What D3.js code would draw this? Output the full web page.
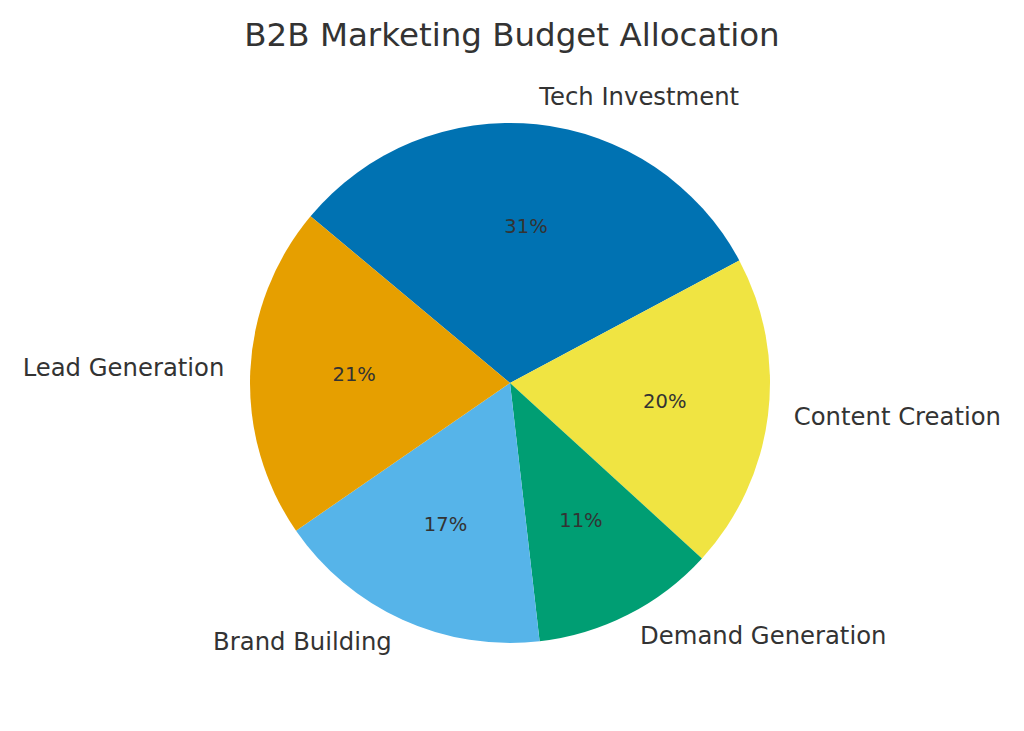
<!DOCTYPE html>
<html>
<head>
<meta charset="utf-8">
<script src="https://cdn.jsdelivr.net/npm/d3@7"></script>
<style>
  body { margin: 0; background: #fff; }
  text { font-family: "DejaVu Sans", sans-serif; fill: #333333; }
</style>
</head>
<body>
<div id="chart"></div>
<script>
const WIDTH = 1024;
const HEIGHT = 731;
const CENTER = { x: 510, y: 383 };
const RADIUS = 260;

// slice order goes clockwise from the Tech Investment wedge
const categories = [
  "Tech Investment",
  "Content Creation",
  "Demand Generation",
  "Brand Building",
  "Lead Generation",
];
// shares (labels are rounded)
const shares = [31.1, 19.6, 11.4, 17.2, 20.7];
const colors = ["#0072B2", "#F0E442", "#009E73", "#56B4E9", "#E69F00"];

const data = categories.map((c, i) => ({ name: c, value: shares[i], color: colors[i] }));

const svg = d3
  .select("#chart")
  .append("svg")
  .attr("width", WIDTH)
  .attr("height", HEIGHT);

svg
  .append("text")
  .attr("x", WIDTH / 2)
  .attr("y", 35)
  .attr("text-anchor", "middle")
  .attr("dominant-baseline", "central")
  .attr("font-size", "32.5px")
  .text("B2B Marketing Budget Allocation");

// start at 140deg (counter-clockwise from 3 o'clock) => -50deg from 12 o'clock
const start = (-50.1 * Math.PI) / 180;
const pie = d3
  .pie()
  .sort(null)
  .value((d) => d.value)
  .startAngle(start)
  .endAngle(start + 2 * Math.PI);

const arcs = pie(data);
const arc = d3.arc().innerRadius(0).outerRadius(RADIUS);
const fmt = d3.format(".0f");

const g = svg.append("g").attr("transform", `translate(${CENTER.x}, ${CENTER.y})`);

g.selectAll("path")
  .data(arcs)
  .enter()
  .append("path")
  .attr("d", arc)
  .attr("fill", (d) => d.data.color);

function pointAt(d, dist) {
  const a = (d.startAngle + d.endAngle) / 2;
  return [Math.sin(a) * dist, -Math.cos(a) * dist];
}

// category labels outside
g.selectAll(".label")
  .data(arcs)
  .enter()
  .append("text")
  .attr("class", "label")
  .attr("x", (d) => pointAt(d, RADIUS * 1.1)[0])
  .attr("y", (d) => pointAt(d, RADIUS * 1.1)[1] - 2)
  .attr("text-anchor", (d) => (pointAt(d, 1)[0] >= 0 ? "start" : "end"))
  .attr("dominant-baseline", "central")
  .attr("font-size", "24.3px")
  .text((d) => d.data.name);

// percentage labels inside
g.selectAll(".pct")
  .data(arcs)
  .enter()
  .append("text")
  .attr("class", "pct")
  .attr("x", (d) => pointAt(d, RADIUS * 0.6)[0])
  .attr("y", (d) => pointAt(d, RADIUS * 0.6)[1] - 1)
  .attr("text-anchor", "middle")
  .attr("dominant-baseline", "central")
  .attr("font-size", "19.5px")
  .text((d) => fmt(d.data.value) + "%");
</script>
</body>
</html>
